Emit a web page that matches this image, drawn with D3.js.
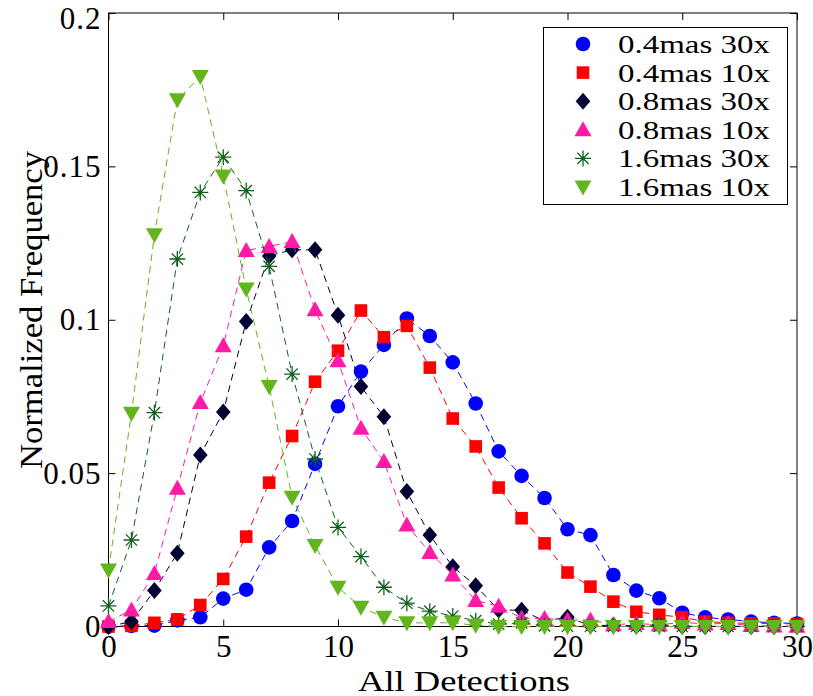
<!DOCTYPE html>
<html>
<head>
<meta charset="utf-8">
<script src="https://cdn.jsdelivr.net/npm/d3@7"></script>
<style>
  html, body { margin: 0; padding: 0; background: #fff; }
  svg text { font-family: "Liberation Serif", "Times New Roman", serif; fill: #000; }
</style>
</head>
<body>
<svg id="chart" width="813" height="696"></svg>
<script>
// ---- data ----
const xValues = [0,1,2,3,4,5,6,7,8,9,10,11,12,13,14,15,16,17,18,19,20,21,22,23,24,25,26,27,28,29,30];

const s04_30 = [0.0000,0.0002,0.0003,0.0020,0.0030,0.0091,0.0120,0.0258,0.0344,0.0530,0.0718,0.0831,0.0918,0.1004,0.0947,0.0861,0.0727,0.0571,0.0491,0.0419,0.0317,0.0298,0.0168,0.0117,0.0092,0.0045,0.0030,0.0023,0.0016,0.0012,0.0010];
const s04_10 = [0.0000,0.0002,0.0012,0.0023,0.0070,0.0155,0.0293,0.0469,0.0621,0.0798,0.0899,0.1030,0.0943,0.0980,0.0844,0.0678,0.0587,0.0453,0.0353,0.0271,0.0176,0.0130,0.0081,0.0048,0.0038,0.0030,0.0016,0.0012,0.0010,0.0010,0.0008];
const s08_30 = [0.0000,0.0016,0.0117,0.0239,0.0559,0.0699,0.0994,0.1208,0.1228,0.1228,0.1015,0.0782,0.0684,0.0440,0.0298,0.0195,0.0133,0.0054,0.0053,0.0018,0.0030,0.0003,0.0004,0.0002,0.0006,0.0001,0.0000,0.0001,0.0000,0.0000,0.0000];
const s08_10 = [0.0016,0.0054,0.0173,0.0451,0.0730,0.0915,0.1226,0.1239,0.1255,0.1033,0.0866,0.0646,0.0538,0.0331,0.0241,0.0168,0.0085,0.0066,0.0027,0.0026,0.0021,0.0021,0.0006,0.0010,0.0005,0.0014,0.0008,0.0010,0.0003,0.0002,0.0001];
const s16_30 = [0.0067,0.0282,0.0697,0.1198,0.1415,0.1530,0.1421,0.1174,0.0823,0.0546,0.0323,0.0228,0.0128,0.0076,0.0050,0.0034,0.0019,0.0008,0.0012,0.0002,0.0001,0.0000,0.0000,0.0000,0.0000,0.0000,0.0000,0.0000,0.0000,0.0000,0.0000];
const s16_10 = [0.0184,0.0695,0.1277,0.1717,0.1793,0.1469,0.1100,0.0782,0.0421,0.0264,0.0128,0.0063,0.0030,0.0012,0.0012,0.0012,0.0004,0.0000,0.0000,0.0000,0.0000,0.0000,0.0000,0.0000,0.0000,0.0000,0.0000,0.0000,0.0000,0.0000,0.0000];

const seriesNames  = ["0.4mas 30x","0.4mas 10x","0.8mas 30x","0.8mas 10x","1.6mas 30x","1.6mas 10x"];
const seriesValues = [s04_30, s04_10, s08_30, s08_10, s16_30, s16_10];
const seriesColors = ["#0000ff","#ff0000","#000033","#ff1aa8","#11601e","#62b51c"];
const seriesMarkers = ["circle","square","diamond","triangleUp","asterisk","triangleDown"];

const xTicks = [0,5,10,15,20,25,30];
const yTicks = [0,0.05,0.1,0.15,0.2];
const yTickLabels = ["0","0.05","0.1","0.15","0.2"];
const xLabel = "All Detections";
const yLabel = "Normalized Frequency";

// ---- layout ----
const svg = d3.select("#chart");
const L = 108.5, R = 797, T = 13, B = 626.5;
const x = d3.scaleLinear().domain([0,30]).range([L,R]);
const y = d3.scaleLinear().domain([0,0.2]).range([B,T]);

// axes
const gx = svg.append("g").attr("transform",`translate(0,${B})`)
  .call(d3.axisBottom(x).tickValues(xTicks).tickSize(-7).tickPadding(8).tickFormat(d3.format("d")));
const gxTop = svg.append("g").attr("transform",`translate(0,${T})`)
  .call(d3.axisTop(x).tickValues(xTicks).tickSize(-7).tickFormat(""));
const gy = svg.append("g").attr("transform",`translate(${L},0)`)
  .call(d3.axisLeft(y).tickValues(yTicks).tickSize(-7).tickPadding(7).tickFormat((d,i)=>yTickLabels[i]));
const gyR = svg.append("g").attr("transform",`translate(${R},0)`)
  .call(d3.axisRight(y).tickValues(yTicks).tickSize(-7).tickFormat(""));
[gx,gxTop,gy,gyR].forEach(g=>{
  g.select(".domain").remove();
  g.selectAll(".tick line").attr("stroke","#000").attr("stroke-width",1);
  g.selectAll("text").attr("font-size",31).attr("font-family","Liberation Serif, serif");
});
gy.selectAll("text").attr("letter-spacing","1px");
// keep the top label inside the picture, as in the reference
gy.selectAll(".tick").filter(d=>d===0.2).select("text").attr("dy","0.5em");

// frame
svg.append("rect").attr("x",L).attr("y",T).attr("width",R-L).attr("height",B-T)
  .attr("fill","none").attr("stroke","#000").attr("stroke-width",1);

// axis labels
svg.append("text").attr("x",464).attr("y",691).attr("text-anchor","middle")
  .attr("font-size",30).attr("textLength",212).attr("lengthAdjust","spacingAndGlyphs").text(xLabel);
svg.append("text").attr("transform","translate(42,310) rotate(-90)").attr("text-anchor","middle")
  .attr("font-size",31).attr("textLength",318).attr("lengthAdjust","spacingAndGlyphs").text(yLabel);

// markers
function markerPath(type){
  const p = d3.path();
  switch(type){
    case "circle": p.arc(0,0,7.3,0,2*Math.PI); break;
    case "square": p.rect(-6.3,-6.3,12.6,12.6); break;
    case "diamond": p.moveTo(0,-8.5); p.lineTo(7.3,0); p.lineTo(0,8.5); p.lineTo(-7.3,0); p.closePath(); break;
    case "triangleUp": p.moveTo(0,-8.5); p.lineTo(8.5,6.5); p.lineTo(-8.5,6.5); p.closePath(); break;
    case "triangleDown": p.moveTo(0,8.5); p.lineTo(8.5,-6.5); p.lineTo(-8.5,-6.5); p.closePath(); break;
    case "asterisk": {
      const r=8, d=r*0.7071;
      p.moveTo(-r,0); p.lineTo(r,0); p.moveTo(0,-r); p.lineTo(0,r);
      p.moveTo(-d,-d); p.lineTo(d,d); p.moveTo(-d,d); p.lineTo(d,-d); break;
    }
  }
  return p.toString();
}
function drawMarker(g, type, color){
  const path = g.append("path").attr("d",markerPath(type));
  if(type==="asterisk") path.attr("fill","none").attr("stroke",color).attr("stroke-width",1.3);
  else path.attr("fill",color).attr("stroke","none");
}

const line = d3.line().x(d=>x(d[0])).y(d=>y(d[1]));
seriesValues.forEach((vals,si)=>{
  const pts = xValues.map((xv,i)=>[xv, vals[i]]);
  const g = svg.append("g");
  g.append("path").datum(pts).attr("d",line).attr("fill","none")
    .attr("stroke",seriesColors[si]).attr("stroke-width",1).attr("stroke-dasharray","7,5");
  pts.forEach(pt=>{
    const mg = g.append("g").attr("transform",`translate(${x(pt[0])},${y(pt[1])})`);
    drawMarker(mg, seriesMarkers[si], seriesColors[si]);
  });
});

// legend
const lg = svg.append("g");
lg.append("rect").attr("x",543.5).attr("y",27.5).attr("width",244).attr("height",177)
  .attr("fill","#fff").attr("stroke","#000").attr("stroke-width",1);
const rowY = [44,72.6,101.2,129.8,158.4,187];
seriesNames.forEach((name,i)=>{
  const mg = lg.append("g").attr("transform",`translate(583,${rowY[i]})`);
  drawMarker(mg, seriesMarkers[i], seriesColors[i]);
  lg.append("text").attr("x",618).attr("y",rowY[i]+9).attr("font-size",26)
    .attr("textLength",152).attr("lengthAdjust","spacingAndGlyphs").text(name);
});
</script>
</body>
</html>
